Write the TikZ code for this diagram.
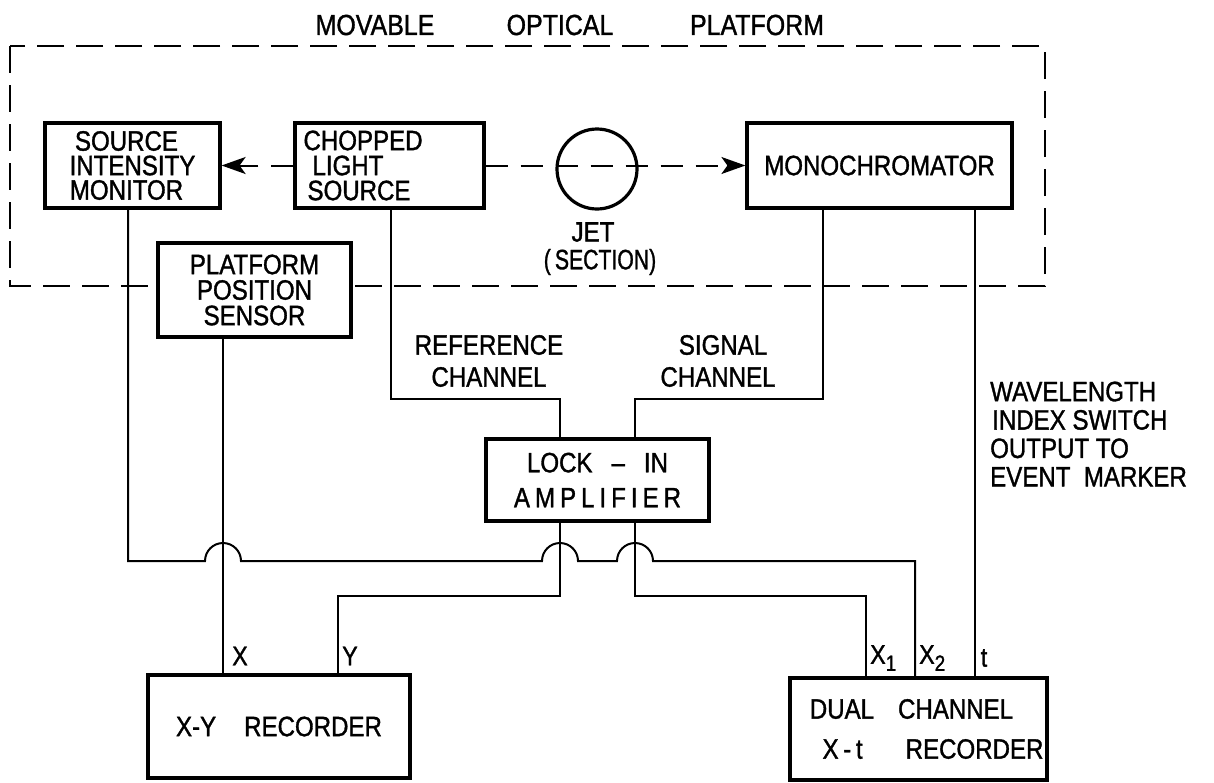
\documentclass[tikz,border=0pt]{standalone}
\usepackage{fontspec}
\setmainfont{Liberation Sans}[FakeStretch=0.86,FakeBold=1.2]
\usetikzlibrary{arrows.meta}
\begin{document}
\begin{tikzpicture}[x=1pt,y=-1pt,
  boxnode/.style={draw, line width=3.2pt, inner sep=0pt, align=center},
  txt/.style={inner sep=0pt, align=center},
  wire/.style={line width=2pt},
  frameline/.style={line width=2pt, dash pattern=on 27pt off 12pt},
  optic/.style={line width=2pt, dash pattern=on 22pt off 13pt},
  tip/.style={-{Stealth[length=24pt,width=17pt,inset=6pt]}}
]
\fill[white] (0,0) rectangle (1214,782);
\useasboundingbox (0,0) rectangle (1214,782);

% x positions of the wires
\coordinate (cSIM) at (128,0);
\coordinate (cPPS) at (223,0);
\coordinate (cCLS) at (391,0);
\coordinate (cL1) at (560,0);
\coordinate (cL2) at (635,0);
\coordinate (cMO) at (823,0);
\coordinate (cT) at (975,0);
\coordinate (cY) at (338,0);
\coordinate (cX1) at (866,0);
\coordinate (cX2) at (915,0);

% title
\node[txt, font=\fontsize{29}{30}\selectfont] (t1) at (375,25) {MOVABLE};
\node[txt, font=\fontsize{29}{30}\selectfont] (t2) at (560,25) {OPTICAL};
\node[txt, font=\fontsize{29}{30}\selectfont] (t3) at (757,25) {PLATFORM};

% platform frame
\draw[frameline] (10,46) rectangle (1045,286);

% boxes inside the platform
\node[boxnode, minimum width=175pt, minimum height=85pt, font=\fontsize{28}{24.5}\selectfont] (sim) at (132.5,165.5) {SOURCE\hspace*{12pt}\\INTENSITY\hspace*{10pt}\\MONITOR\hspace*{12pt}};
\node[boxnode, minimum width=189pt, minimum height=85pt, font=\fontsize{28}{25}\selectfont, align=left, text width=172pt, inner xsep=8.5pt] (cls) at (389.5,165.5) {CHOPPED\\\hspace*{9pt}LIGHT\\\hspace*{4pt}SOURCE};
\node[boxnode, minimum width=265pt, minimum height=85pt, font=\fontsize{28}{25}\selectfont] (mono) at (879.5,165.5) {MONOCHROMATOR};
\node[circle, draw, line width=3.2pt, minimum size=80pt, inner sep=0pt] (jet) at (597,169) {};
\node[txt, font=\fontsize{28}{30}\selectfont] (jetl) at (593,232) {JET};
\node[txt, font=\fontsize{28}{30}\selectfont] (secl) at (600,262) {\scalebox{0.88}[1]{(\,SECTION)}};

% wires
\draw[wire] (sim.south -| cSIM) -- (128,561) -- (205,561)
  arc[start angle=180, end angle=360, radius=18] -- (542,561)
  arc[start angle=180, end angle=360, radius=18] -- (617,561)
  arc[start angle=180, end angle=360, radius=18] -- (915,561)
  -- (915,678);
\draw[wire] (cls.south -| cCLS) |- (560,399) -- (560,439);
\draw[wire] (mono.south -| cMO) |- (635,399) -- (635,439);
\draw[wire] (mono.south -| cT) -- (975,678);
\draw[wire] (223,337) -- (223,675);
\draw[wire] (560,521) |- (338,596) -- (338,675);
\draw[wire] (635,521) |- (866,596) -- (866,678);

% optical path
\draw[optic, tip] (cls.west) -- (sim.east);
\draw[optic, tip] (cls.east) -- (mono.west);

\node[boxnode, fill=white, minimum width=193pt, minimum height=94pt, font=\fontsize{28}{25.5}\selectfont] (pps) at (254.5,290) {PLATFORM\\POSITION\\SENSOR};
\node[boxnode, fill=white, minimum width=223pt, minimum height=82pt, font=\fontsize{28}{35}\selectfont] (lia) at (597.5,480) {LOCK\hspace{19pt}--\hspace{19pt}IN\\A\kern5pt M\kern5pt P\kern5pt L\kern5pt I\kern5pt F\kern5pt I\kern5pt E\kern5pt R};
\node[boxnode, fill=white, minimum width=262pt, minimum height=103pt, font=\fontsize{28}{30}\selectfont] (xy) at (279,726.5) {X-Y\quad RECORDER};
\node[boxnode, fill=white, minimum width=257pt, minimum height=102pt, font=\fontsize{28}{40}\selectfont] (dcr) at (918.5,729) {DUAL\hspace{24pt}CHANNEL\hspace*{14pt}\\\hspace*{29pt}X\,-\,t\hspace{43pt}RECORDER};

% channel labels
\node[txt, font=\fontsize{28}{32}\selectfont] (refl) at (489,361) {REFERENCE\\CHANNEL};
\node[txt, font=\fontsize{28}{32}\selectfont] (sigl) at (718,361) {\hspace*{10pt}SIGNAL\\CHANNEL};
\node[txt, font=\fontsize{28}{28.4}\selectfont, align=left, anchor=west] (wavl) at (990,434) {WAVELENGTH\\\hspace*{2pt}INDEX SWITCH\\OUTPUT TO\\EVENT\ \ MARKER};

% input labels
\node[txt, font=\fontsize{27}{30}\selectfont] (lx) at (240,656) {X};
\node[txt, font=\fontsize{27}{30}\selectfont] (ly) at (350,656) {Y};
\node[txt, font=\fontsize{27}{30}\selectfont, anchor=west] (lx1) at (870,658) {X\raisebox{-7pt}{\fontsize{22}{22}\selectfont 1}};
\node[txt, font=\fontsize{27}{30}\selectfont, anchor=west] (lx2) at (919,658) {X\raisebox{-7pt}{\fontsize{22}{22}\selectfont 2}};
\node[txt, font=\fontsize{27}{30}\selectfont] (lt) at (984,658) {t};
\end{tikzpicture}
\end{document}
